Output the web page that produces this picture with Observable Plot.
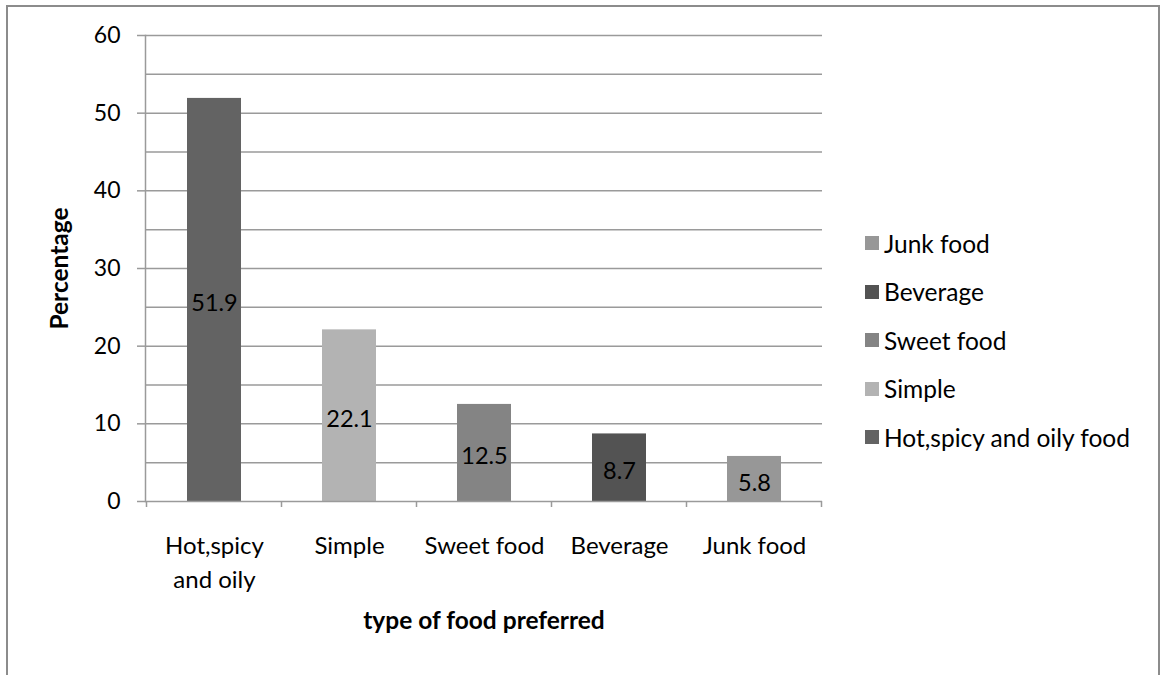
<!DOCTYPE html>
<html>
<head>
<meta charset="utf-8">
<script src="https://cdn.jsdelivr.net/npm/d3@7"></script>
<script src="https://cdn.jsdelivr.net/npm/@observablehq/plot@0.6"></script>
<style>
  html, body { margin: 0; padding: 0; background: #fff; }
  body { position: relative; width: 1161px; height: 675px; overflow: hidden; font-family: Lato, "Open Sans", sans-serif; }
  #frame { position: absolute; left: 6px; top: 5px; width: 1150px; height: 720px; border: 2px solid #8c8c8c; pointer-events: none; }
  #chart { position: absolute; left: 0; top: 0; }
  #legend { position: absolute; left: 865px; top: 219px; font-size: 24.5px; color: #000; }
  #legend .item { display: flex; align-items: center; height: 48.5px; }
  #legend .sw { width: 14px; height: 14px; margin-right: 5px; }
</style>
</head>
<body>
<div id="chart"></div>
<div id="legend"></div>
<div id="frame"></div>
<script>
// ---- data ----
const categories = ["Hot,spicy and oily", "Simple", "Sweet food", "Beverage", "Junk food"];
const tickLabels = ["Hot,spicy\nand oily", "Simple", "Sweet food", "Beverage", "Junk food"];
const values = [51.9, 22.1, 12.5, 8.7, 5.8];
const colors = ["#636363", "#b3b3b3", "#848484", "#535353", "#979797"];
const legendNames = ["Hot,spicy and oily food", "Simple", "Sweet food", "Beverage", "Junk food"];
const yTicks = [0, 10, 20, 30, 40, 50, 60];
const yGrid = [5, 10, 15, 20, 25, 30, 35, 40, 45, 50, 55, 60];
const xTitle = "type of food preferred";
const yTitle = "Percentage";

const data = categories.map((c, i) => ({category: c, value: values[i], color: colors[i], label: String(values[i])}));

const W = 1161, H = 675, mL = 145, mR = 339, mT = 35, mB = 174;

const chart = Plot.plot({
  width: W, height: H,
  marginLeft: mL, marginRight: mR, marginTop: mT, marginBottom: mB,
  style: {fontFamily: "Lato, 'Open Sans', sans-serif", fontSize: "24px", color: "#000", background: "transparent"},
  x: {domain: categories, paddingInner: 0.6, paddingOuter: 0.3},
  y: {domain: [0, 60]},
  marks: [
    Plot.gridY(yGrid, {stroke: "#9a9a9a", strokeOpacity: 1, strokeWidth: 1.5}),
    Plot.barY(data, {x: "category", y: "value", fill: "color"}),
    Plot.text(data, {x: "category", y: d => d.value / 2, text: "label", fill: "#000", fontSize: 23.5, dy: 4}),
    Plot.axisY(yTicks, {tickSize: 8, tickPadding: 17, stroke: "#9a9a9a", strokeWidth: 1.5, fill: "#000", fontSize: 23, label: null}),
    Plot.axisX({tickSize: 0, tickPadding: 29, tickFormat: d => tickLabels[categories.indexOf(d)], lineHeight: 1.4, fontSize: 24, fill: "#000", label: null}),
    Plot.ruleY([0], {stroke: "#9a9a9a", strokeWidth: 1.5}),
    Plot.frame({anchor: "left", stroke: "#9a9a9a", strokeWidth: 1.5}),
    Plot.text([xTitle], {frameAnchor: "bottom", dy: 127, fontWeight: "bold", fontSize: 24.5, fill: "#000"}),
    Plot.text([yTitle], {frameAnchor: "left", textAnchor: "middle", dx: -85, rotate: -90, fontWeight: "bold", fontSize: 24.5, fill: "#000"})
  ]
});
document.getElementById("chart").append(chart);

// x-axis boundary ticks (category edges), drawn using the plot's x scale
const xs = chart.scale("x"), ys = chart.scale("y");
const svg = d3.select(chart);
const gap = (xs.step - xs.bandwidth) / 2;
const edges = categories.map(c => xs.apply(c) - gap);
edges.push(xs.apply(categories[categories.length - 1]) + xs.bandwidth + gap);
svg.append("g").selectAll("line").data(edges).join("line")
  .attr("x1", d => d).attr("x2", d => d)
  .attr("y1", ys.apply(0)).attr("y2", ys.apply(0) + 6)
  .attr("stroke", "#9a9a9a").attr("stroke-width", 1.5);

// legend (reverse order like the reference)
const legend = d3.select("#legend");
const order = d3.range(categories.length).reverse();
const items = legend.selectAll(".item").data(order).join("div").attr("class", "item");
items.append("div").attr("class", "sw").style("background", i => colors[i]);
items.append("span").text(i => legendNames[i]);
</script>
</body>
</html>
